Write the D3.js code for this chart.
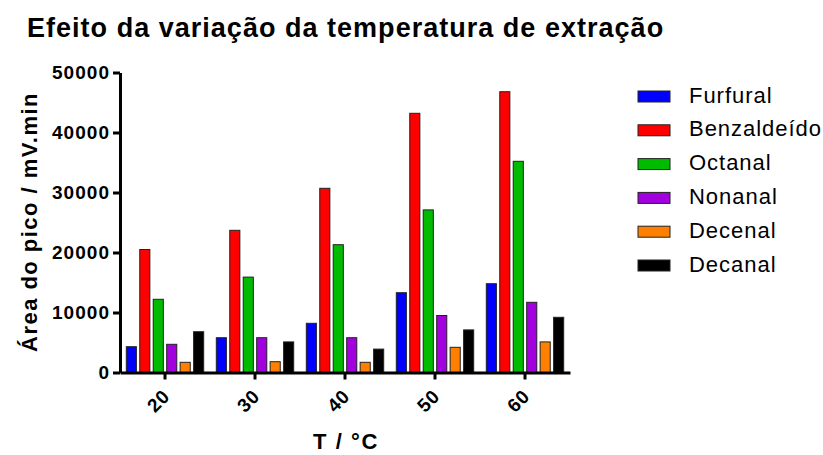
<!DOCTYPE html>
<html>
<head>
<meta charset="utf-8">
<script src="https://cdn.jsdelivr.net/npm/d3@7"></script>
<style>
  html, body { margin: 0; padding: 0; background: #fff; }
  svg { display: block; font-family: "Liberation Sans", Arial, sans-serif; }
</style>
</head>
<body>
<svg id="chart" width="823" height="455"></svg>
<script>
// Temperatures (°C) on the x axis
const temperatures = ["20", "30", "40", "50", "60"];
// Compounds, one bar per compound within each temperature group
const compounds = ["Furfural", "Benzaldeído", "Octanal", "Nonanal", "Decenal", "Decanal"];
const colors = ["#0000ff", "#ff0000", "#00bb00", "#a300e0", "#ff8000", "#000000"];
// Peak areas (mV.min) per compound, indexed by temperature
const furfural    = [4300, 5800, 8200, 13300, 14800];
const benzaldeido = [20500, 23700, 30700, 43200, 46800];
const octanal     = [12200, 15900, 21300, 27100, 35200];
const nonanal     = [4700, 5800, 5800, 9500, 11700];
const decenal     = [1700, 1800, 1700, 4200, 5100];
const decanal     = [6800, 5100, 3900, 7100, 9200];
const yTicks = [0, 10000, 20000, 30000, 40000, 50000];

const seriesValues = [furfural, benzaldeido, octanal, nonanal, decenal, decanal];

const svg = d3.select("#chart");
const margin = { left: 120, right: 253, top: 72.5, bottom: 82.5 };
const W = 823, H = 455;
const plotW = W - margin.left - margin.right;
const plotH = H - margin.top - margin.bottom;

// Spread a text's letters so that it spans the given width
function spreadTo(sel, width) {
  const node = sel.node();
  const n = node.textContent.length;
  const len = node.getComputedTextLength();
  const ls = (width - len) / n;
  sel.attr("letter-spacing", ls.toFixed(2));
  return ls;
}

const g = svg.append("g").attr("transform", `translate(${margin.left},${margin.top})`);

const x0 = d3.scaleBand().domain(temperatures).range([0, plotW]).paddingInner(0.14).paddingOuter(0.07);
const x1 = d3.scaleBand().domain(compounds).range([0, x0.bandwidth()]).paddingInner(0.25).paddingOuter(0);
const y = d3.scaleLinear().domain([0, 50000]).range([plotH, 0]);
const color = d3.scaleOrdinal().domain(compounds).range(colors);

// Bars
const groups = g.selectAll("g.grp")
  .data(temperatures)
  .join("g")
  .attr("class", "grp")
  .attr("transform", d => `translate(${x0(d)},0)`);

groups.selectAll("rect")
  .data((t, i) => compounds.map((c, k) => ({ c, v: seriesValues[k][i] })))
  .join("rect")
  .attr("x", d => x1(d.c))
  .attr("y", d => y(d.v))
  .attr("width", x1.bandwidth())
  .attr("height", d => plotH - y(d.v))
  .attr("fill", d => color(d.c))
  .attr("stroke", "#222")
  .attr("stroke-width", 1);

// Y axis
const yAxis = g.append("g")
  .call(d3.axisLeft(y).tickValues(yTicks).tickFormat(d3.format("d")).tickSize(7).tickSizeOuter(0));
yAxis.select(".domain").attr("stroke", "#000").attr("stroke-width", 3);
yAxis.selectAll(".tick line").attr("stroke", "#000").attr("stroke-width", 3);
const yLabels = yAxis.selectAll(".tick text")
  .attr("font-size", 19).attr("font-weight", "bold").attr("fill", "#000").attr("x", -10)
  .attr("dy", "0.34em");
yLabels.filter(d => d === 50000).call(s => {
  const ls = spreadTo(s, 58);
  yLabels.attr("letter-spacing", ls.toFixed(2));
});

// X axis
const xAxis = g.append("g")
  .attr("transform", `translate(0,${plotH})`)
  .call(d3.axisBottom(x0).tickSize(7).tickSizeOuter(0));
xAxis.select(".domain").attr("stroke", "#000").attr("stroke-width", 3);
xAxis.selectAll(".tick line").attr("stroke", "#000").attr("stroke-width", 3);
xAxis.selectAll(".tick text")
  .attr("font-size", 19).attr("font-weight", "bold").attr("fill", "#000")
  .attr("letter-spacing", 0.8)
  .attr("text-anchor", "end")
  .attr("dy", null).attr("y", 0)
  .attr("transform", "translate(6,25) rotate(-45)");

// Axis titles
const xTitle = svg.append("text")
  .attr("x", margin.left + plotW / 2 + 1).attr("y", 449)
  .attr("text-anchor", "middle")
  .attr("font-size", 22).attr("font-weight", "bold")
  .text("T / °C");
spreadTo(xTitle, 66);

const yTitle = svg.append("text")
  .attr("transform", `translate(37,${222}) rotate(-90)`)
  .attr("text-anchor", "middle")
  .attr("font-size", 22).attr("font-weight", "bold")
  .text("Área do pico / mV.min");
spreadTo(yTitle, 260);

// Title
const title = svg.append("text")
  .attr("x", 27).attr("y", 37)
  .attr("font-size", 27).attr("font-weight", "bold")
  .text("Efeito da variação da temperatura de extração");
spreadTo(title, 637);

// Legend
const legend = svg.append("g").attr("transform", "translate(638,91)");
const rows = legend.selectAll("g").data(compounds).join("g")
  .attr("transform", (d, i) => `translate(0,${i * 33.8})`);
rows.append("rect").attr("width", 32).attr("height", 11)
  .attr("fill", d => color(d)).attr("stroke", "#222").attr("stroke-width", 1);
const legText = rows.append("text").attr("x", 51).attr("y", 11.5)
  .attr("font-size", 22).text(d => d);
legText.filter(d => d === "Benzaldeído").call(s => {
  const ls = spreadTo(s, 133);
  legText.attr("letter-spacing", ls.toFixed(2));
});
</script>
</body>
</html>
